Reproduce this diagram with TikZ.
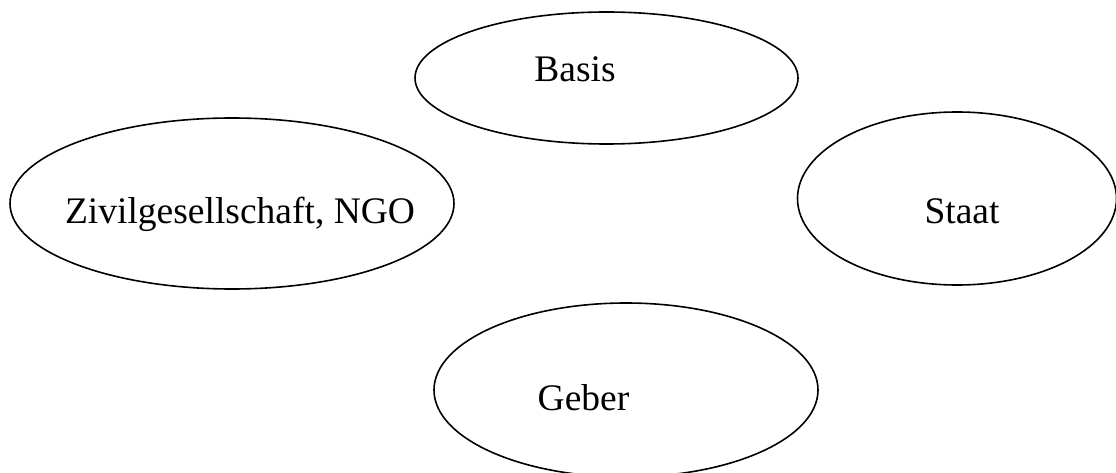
\documentclass[tikz,border=0pt]{standalone}
\usepackage{fontspec}
\setmainfont{Liberation Serif}
\usetikzlibrary{shapes.geometric}
\begin{document}
\begin{tikzpicture}[x=1pt,y=-1pt,
  ell/.style={draw=black, line width=1.6pt, ellipse, inner sep=0pt, outer sep=0pt},
  lbl/.style={anchor=base, inner sep=0pt, font=\fontsize{37.5}{45}\selectfont}]
\useasboundingbox (0,0) rectangle (1116,473);
\clip (0,0) rectangle (1116,473);
\node[ell, minimum width=383pt, minimum height=132pt] (basis) at (606.5,78) {};
\node[ell, minimum width=444pt, minimum height=171pt] (zivil) at (232,203.5) {};
\node[ell, minimum width=319pt, minimum height=173pt] (staat) at (957,198.5) {};
\node[ell, minimum width=384pt, minimum height=174pt] (geber) at (626,390) {};
\node[lbl] (tbasis) at (575,82) {Basis};
\node[lbl] (tzivil) at (240,223) {Zivilgesellschaft, NGO};
\node[lbl] (tstaat) at (962,223) {Staat};
\node[lbl] (tgeber) at (583.5,410.5) {Geber};
\end{tikzpicture}
\end{document}
